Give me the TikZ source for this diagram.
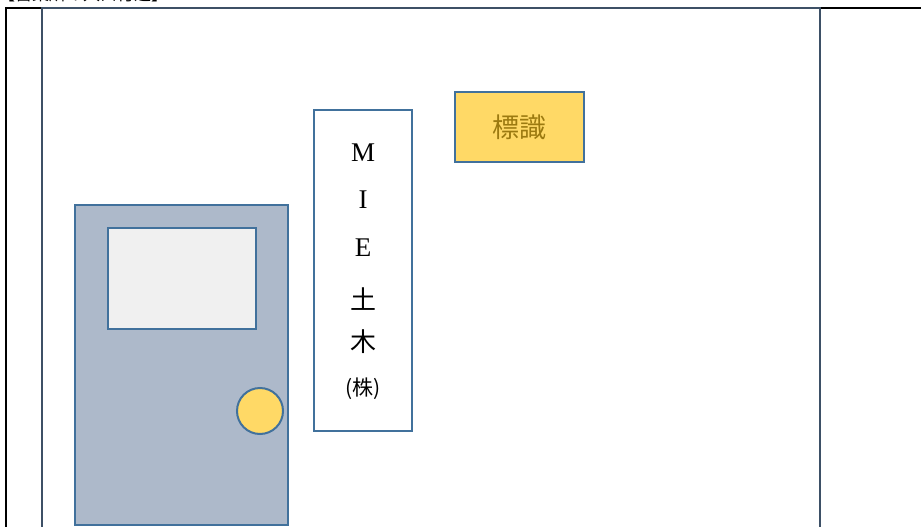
\documentclass[tikz,border=0pt]{standalone}
\usepackage{fontspec}
\setmainfont{Liberation Serif}
\newfontfamily\jp{Noto Sans CJK JP}
\definecolor{edgeblue}{HTML}{41719C}
\definecolor{wallline}{HTML}{3D5066}
\definecolor{doorfill}{HTML}{ADB9CA}
\definecolor{winfill}{HTML}{F0F0F0}
\definecolor{gold}{HTML}{FFD966}
\definecolor{goldtext}{HTML}{9C7A10}
\tikzset{
  shape box/.style={draw=edgeblue, line width=2pt, inner sep=0pt, outer sep=0pt},
  sign letter/.style={font=\fontsize{27}{27}\selectfont, text=black}
}
\begin{document}
\begin{tikzpicture}[x=1pt,y=-1pt]
\useasboundingbox (0,0) rectangle (921,527);
\fill[white] (0,0) rectangle (921,527);
% heading (cut off at top, as in the reference)
\node[anchor=base west, inner sep=0pt, font=\jp\fontsize{17}{17}\selectfont] (title) at (-2,1) {【営業所の入口付近】};
% outer black cell frame
\draw[black, line width=2pt] (6,560) -- (6,8) -- (940,8);
% wall
\draw[wallline, line width=2pt, fill=white] (42,560) -- (42,8) -- (820,8) -- (820,560);
% door
\node[shape box, fill=doorfill, minimum width=213pt, minimum height=320pt, anchor=north west] (door) at (75,205) {};
\node[shape box, fill=winfill, minimum width=148pt, minimum height=101pt, anchor=north west] (window) at (108,228) {};
\node[shape box, circle, fill=gold, minimum size=46pt] (knob) at (260,411) {};
% company sign
\node[shape box, fill=white, minimum width=98pt, minimum height=321pt, anchor=north west] (sign) at (314,110) {};
\node[sign letter] (m) at (363,153) {M};
\node[sign letter] (i) at (363,200) {I};
\node[sign letter] (e) at (363,248) {E};
\node[sign letter, font=\jp\fontsize{26}{26}\selectfont] (do) at (363,299) {土};
\node[sign letter, font=\jp\fontsize{26}{26}\selectfont] (ki) at (363,342) {木};
\node[sign letter, font=\jp\fontsize{21}{21}\selectfont] (kabu) at (363,389) {(株)};
% label sign
\node[shape box, fill=gold, minimum width=129pt, minimum height=70pt, anchor=north west] (hyoshiki) at (455,92) {};
\node[font=\jp\fontsize{27}{27}\selectfont, text=goldtext] (hyotext) at (hyoshiki.center) {標識};
\end{tikzpicture}
\end{document}
